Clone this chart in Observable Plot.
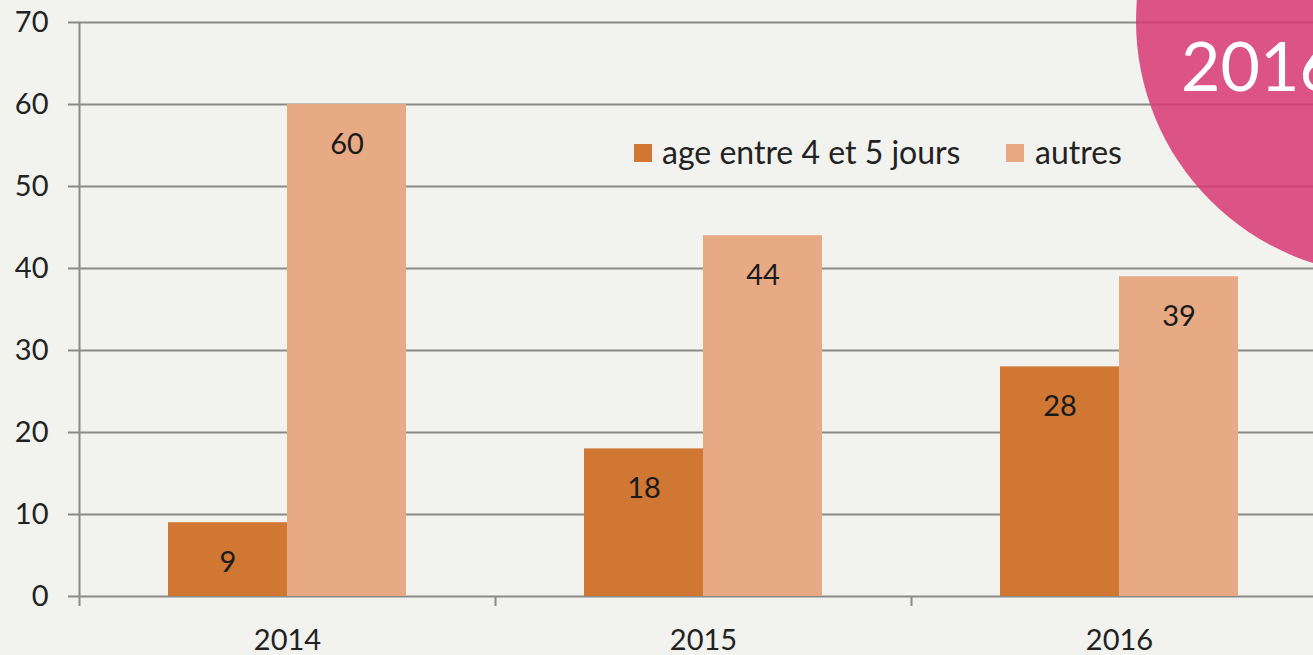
<!DOCTYPE html>
<html><head><meta charset="utf-8">
<script src="https://cdn.jsdelivr.net/npm/d3@7"></script>
<script src="https://cdn.jsdelivr.net/npm/@observablehq/plot@0.6"></script>
<style>
html,body{margin:0;padding:0;overflow:hidden;background:#f2f2ee;}
#chart{width:1313px;height:655px;overflow:hidden;position:relative;}
#chart svg{max-width:none !important;}
</style></head><body><div id="chart"></div>
<script>
const years = ["2014", "2015", "2016"];
const seriesNames = ["age entre 4 et 5 jours", "autres"];
const ageValues = [9, 18, 28];
const autresValues = [60, 44, 39];
const yTicks = [0, 10, 20, 30, 40, 50, 60, 70];
const seriesColors = ["#cf7733", "#e8aa85"];
const badgeText = "2016";

const rows = years.flatMap((year, i) => [
  {year, series: seriesNames[0], value: ageValues[i]},
  {year, series: seriesNames[1], value: autresValues[i]}
]);
const ageRows = rows.filter(d => d.series === seriesNames[0]);
const autresRows = rows.filter(d => d.series === seriesNames[1]);

const font = "Lato, 'Open Sans', sans-serif";
const gridGrey = "#8a8a8a";

const svg = Plot.plot({
  width: 1340, height: 655,
  marginLeft: 79, marginRight: 13, marginTop: 22, marginBottom: 59,
  style: {background: "transparent", fontFamily: font, fontSize: "29px", color: "#222", maxWidth: "none"},
  x: {type: "band", domain: years, padding: 0},
  y: {domain: [0, 70]},
  color: {domain: seriesNames, range: seriesColors},
  marks: [
    Plot.gridY(yTicks, {stroke: "black", strokeOpacity: 0.43, strokeWidth: 2}),
    Plot.axisY(yTicks, {tickSize: 11, tickPadding: 20, stroke: gridGrey, strokeWidth: 2, fill: "#222", fontSize: 29, label: null}),
    Plot.axisX({tickSize: 0, tickPadding: 33, fill: "#222", fontSize: 29, label: null}),
    Plot.barY(ageRows, {x: "year", y: "value", fill: "series", insetLeft: 89, insetRight: 208}),
    Plot.barY(autresRows, {x: "year", y: "value", fill: "series", insetLeft: 208, insetRight: 89}),
    Plot.ruleX(years, {x: d => d, dx: -208, y1: d => d === years[0] ? 70 : 0, y2: () => 0, insetBottom: -10, stroke: gridGrey, strokeWidth: 2}),
    Plot.text(ageRows, {x: "year", y: "value", text: "value", dx: -59.5, dy: 40, fill: "#1a1a1a", fontSize: 29}),
    Plot.text(autresRows, {x: "year", y: "value", text: "value", dx: 59.5, dy: 40, fill: "#1a1a1a", fontSize: 29})
  ]
});
svg.style.maxWidth = "none";

const s = d3.select(svg);
// legend
const legendItems = [
  {name: seriesNames[0], rx: 634, tx: 662},
  {name: seriesNames[1], rx: 1006, tx: 1035}
];
const lg = s.append("g").attr("font-family", font).attr("font-size", 32).attr("fill", "#222").attr("text-anchor", "start");
legendItems.forEach((it, i) => {
  lg.append("rect").attr("x", it.rx).attr("y", 144).attr("width", 18).attr("height", 18).attr("fill", seriesColors[i]);
  lg.append("text").attr("x", it.tx).attr("y", 164).text(it.name);
});
// decorative badge
s.append("circle").attr("cx", 1390).attr("cy", 21).attr("r", 254).attr("fill", "#d83873").attr("fill-opacity", 0.85);
s.append("text").attr("x", 1181).attr("y", 91).attr("text-anchor", "start").attr("fill", "white").attr("font-family", font).attr("font-size", 68).text(badgeText);

document.getElementById("chart").appendChild(svg);
</script></body></html>
